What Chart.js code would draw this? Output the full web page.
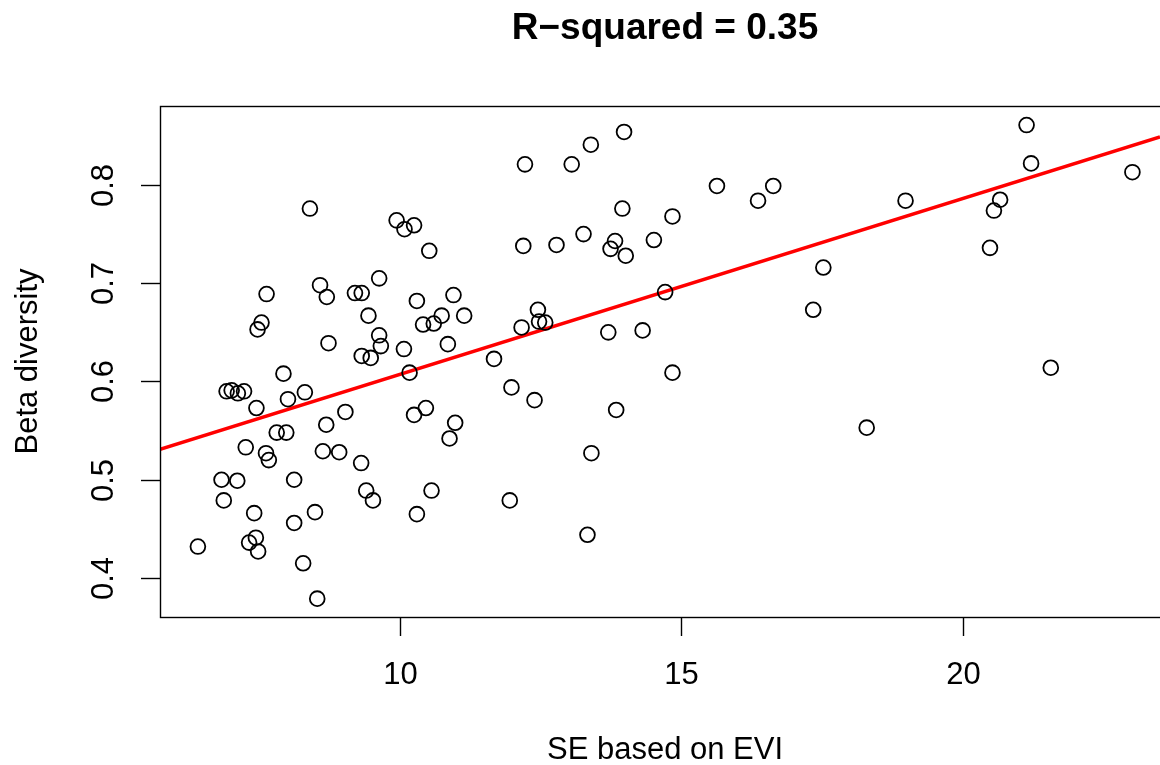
<!DOCTYPE html>
<html>
<head>
<meta charset="utf-8">
<script src="https://cdn.jsdelivr.net/npm/chart.js@4.4.1/dist/chart.umd.min.js"></script>
<style>
  html, body { margin: 0; padding: 0; background: #ffffff; }
  #wrap { width: 1160px; height: 765px; }
</style>
</head>
<body>
<div id="wrap"><canvas id="scatter-chart" width="1160" height="765"></canvas></div>
<script>
// values
var seEvi = [
  6.41, 6.83, 7.11, 6.87, 6.92, 7.01, 7.12, 7.23, 7.26, 7.32,
  7.44, 7.48, 7.41, 7.45, 7.54, 7.47, 7.63, 7.62, 7.67, 7.81,
  7.98, 7.93, 8.01, 8.12, 8.12, 8.28, 8.31, 8.40, 8.49, 8.53,
  8.58, 8.70, 8.63, 8.69, 8.73, 8.92, 9.03, 9.20, 9.32, 9.32,
  9.48, 9.44, 9.63, 9.63, 9.66, 9.31, 9.40, 9.52, 9.94, 10.08,
  10.25, 10.07, 10.17, 10.30, 10.41, 10.60, 10.74, 10.52, 10.25, 10.46,
  10.30, 10.56, 10.85, 10.95, 11.14, 10.98, 10.88, 11.67, 11.98, 12.39,
  11.95, 12.22, 12.19, 12.16, 12.45, 12.47, 12.58, 12.78, 13.05, 13.26,
  13.39, 13.33, 13.40, 13.70, 13.74, 13.82, 13.84, 13.95, 13.98, 14.01,
  14.31, 14.51, 14.71, 14.84, 14.84, 15.63, 16.36, 16.63, 17.34, 17.52,
  18.29, 18.98, 20.48, 20.55, 20.66, 21.13, 21.21, 21.56, 23.01
];
var betaDiv = [
  0.432, 0.500, 0.499, 0.479, 0.590, 0.591, 0.588, 0.590, 0.533, 0.436,
  0.441, 0.427, 0.466, 0.573, 0.660, 0.653, 0.689, 0.527, 0.520, 0.548,
  0.548, 0.608, 0.582, 0.500, 0.456, 0.415, 0.589, 0.776, 0.467, 0.379,
  0.698, 0.686, 0.529, 0.556, 0.639, 0.528, 0.569, 0.690, 0.690, 0.626,
  0.624, 0.667, 0.705, 0.647, 0.636, 0.517, 0.489, 0.479, 0.764, 0.755,
  0.759, 0.633, 0.609, 0.682, 0.658, 0.659, 0.667, 0.733, 0.566, 0.573,
  0.465, 0.489, 0.638, 0.688, 0.667, 0.558, 0.542, 0.623, 0.594, 0.581,
  0.479, 0.821, 0.738, 0.655, 0.673, 0.661, 0.660, 0.739, 0.821, 0.750,
  0.841, 0.444, 0.527, 0.650, 0.735, 0.743, 0.571, 0.776, 0.854, 0.728,
  0.652, 0.744, 0.691, 0.768, 0.609, 0.799, 0.784, 0.799, 0.673, 0.716,
  0.553, 0.784, 0.736, 0.774, 0.785, 0.861, 0.822, 0.614, 0.813
];
var xTicks = [10, 15, 20];
var yTicks = [0.4, 0.5, 0.6, 0.7, 0.8];
var xLimits = [5.737, 23.50];
var yLimits = [0.3603, 0.8804];
// fitted line
var fitIntercept = 0.4283;
var fitSlope = 0.0179;

var titleText = "R\u2212squared = 0.35";
var xTitle = "SE based on EVI";
var yTitle = "Beta diversity";

var points = seEvi.map(function(v, i) { return { x: v, y: betaDiv[i] }; });
var fitPoints = xLimits.map(function(v) { return { x: v, y: fitIntercept + fitSlope * v }; });

// R-style box, ticks and labels drawn with the chart's scales
var baseAxes = {
  id: 'baseAxes',
  afterDraw: function(chart) {
    var ctx = chart.ctx;
    var area = chart.chartArea;
    var xs = chart.scales.x, ys = chart.scales.y;
    // the original plot region runs a little past the right edge of the picture
    var midX = (area.left + area.right + 10) / 2;
    ctx.save();
    ctx.strokeStyle = '#000';
    ctx.fillStyle = '#000';
    ctx.lineWidth = 1.4;
    ctx.strokeRect(area.left + 0.5, area.top + 0.5, area.right - area.left + 4, area.bottom - area.top);

    ctx.font = '31px "Liberation Sans", Arial, sans-serif';
    ctx.textAlign = 'center';
    ctx.textBaseline = 'middle';
    xTicks.forEach(function(t) {
      var px = Math.round(xs.getPixelForValue(t)) + 0.5;
      ctx.beginPath();
      ctx.moveTo(px, area.bottom);
      ctx.lineTo(px, area.bottom + 19);
      ctx.stroke();
      ctx.fillText(String(t), px, area.bottom + 58);
    });
    yTicks.forEach(function(t) {
      var py = Math.round(ys.getPixelForValue(t)) + 0.5;
      ctx.beginPath();
      ctx.moveTo(area.left, py);
      ctx.lineTo(area.left - 19, py);
      ctx.stroke();
      ctx.save();
      ctx.translate(area.left - 56, py);
      ctx.rotate(-Math.PI / 2);
      ctx.fillText(t.toFixed(1), 0, 0);
      ctx.restore();
    });

    ctx.fillText(xTitle, midX, 750);
    ctx.save();
    ctx.translate(28, (area.top + area.bottom) / 2);
    ctx.rotate(-Math.PI / 2);
    ctx.fillText(yTitle, 0, 0);
    ctx.restore();

    ctx.font = 'bold 37px "Liberation Sans", Arial, sans-serif';
    ctx.fillText(titleText, midX, 29);
    ctx.restore();
  }
};

new Chart(document.getElementById("scatter-chart"),
{
  type: 'scatter',
  data:
  {
    datasets:
    [{
      label: "Sites",
      data: points,
      pointStyle: 'circle',
      pointRadius: 7.4,
      pointHoverRadius: 7.4,
      pointBorderWidth: 1.8,
      borderColor: "#000000",
      backgroundColor: "rgba(0,0,0,0)",
      showLine: false
    },
    {
      label: "Fit",
      type: "line",
      data: fitPoints,
      borderColor: "#ff0000",
      borderWidth: 3.6,
      pointRadius: 0,
      fill: false
    }]
  },
  options:
  {
    responsive: false,
    animation: false,
    layout: { autoPadding: false, padding: { left: 160, right: 0, top: 106, bottom: 148 } },
    scales:
    {
      x: { type: 'linear', min: xLimits[0], max: xLimits[1], display: false },
      y: { type: 'linear', min: yLimits[0], max: yLimits[1], display: false }
    },
    plugins:
    {
      legend: { display: false },
      title: { display: false },
      tooltip: { enabled: false }
    }
  },
  plugins: [baseAxes]
});
</script>
</body>
</html>
